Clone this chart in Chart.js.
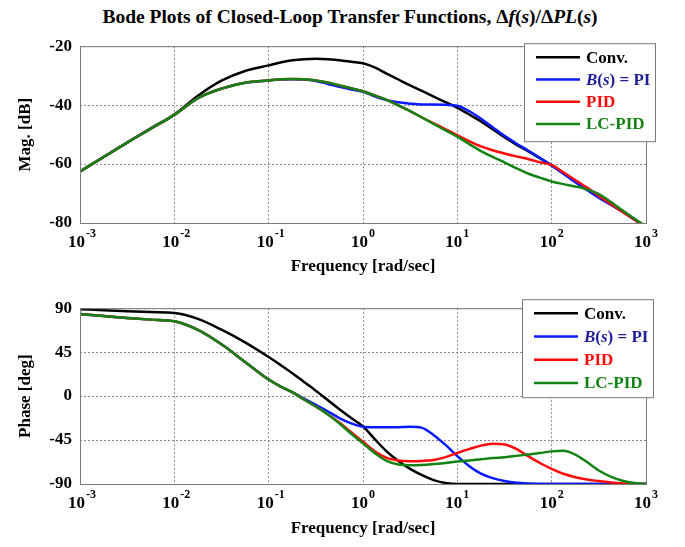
<!DOCTYPE html>
<html>
<head>
<meta charset="utf-8">
<script src="https://cdn.jsdelivr.net/npm/chart.js@4.4.1/dist/chart.umd.min.js"></script>
<style>
  body { margin: 0; background: #fff; width: 685px; height: 547px; position: relative; overflow: hidden; font-family: "Liberation Serif", serif; }
  #title { position: absolute; top: 6px; left: 0; width: 700px; text-align: center; font-weight: bold; font-size: 19.5px; }
  .wrap { position: absolute; left: 0; width: 685px; }
  #wrapMag { top: 28px; height: 250px; }
  #wrapPhase { top: 290px; height: 257px; }
</style>
</head>
<body>
<div id="title">Bode Plots of Closed-Loop Transfer Functions, &Delta;<i>f</i>(<i>s</i>)/&Delta;<i>PL</i>(<i>s</i>)</div>
<div class="wrap" id="wrapMag"><canvas id="magChart"></canvas></div>
<div class="wrap" id="wrapPhase"><canvas id="phaseChart"></canvas></div>
<script>
// frequency points [rad/sec]
const freqs = [0.001, 0.00178, 0.00316, 0.00562, 0.01, 0.0178, 0.0316, 0.0562, 0.1,
  0.133, 0.178, 0.237, 0.316, 0.422, 0.562, 0.75, 1, 1.33, 1.78, 2.37, 3.16, 4.22, 5.62, 7.5,
  10, 13.3, 17.8, 23.7, 31.6, 42.2, 56.2, 75, 100, 133, 178, 237, 316, 422, 562, 750, 1000];

const freqTicks = [0.001, 0.01, 0.1, 1, 10, 100, 1000];
const magTicks = [-80, -60, -40, -20];
const phaseTicks = [-90, -45, 0, 45, 90];

// magnitude [dB]
const magConv = [-62.5, -57.6, -52.7, -47.9, -43.2, -36.8, -31.7, -28.4, -26.5,
  -25.5, -24.8, -24.4, -24.3, -24.4, -24.8, -25.3, -25.8, -27.2, -29.3, -31.3, -33.3, -35.2, -37.1, -39,
  -40.9, -43.1, -45.5, -48.2, -50.9, -53.4, -55.6, -58, -60.5, -63.1, -65.8, -68.4, -71, -73.6, -76.1, -78.7, -81.3];
const magPI = [-62.5, -57.6, -52.7, -48, -43.3, -37.6, -34.4, -32.4, -31.6,
  -31.3, -31.2, -31.3, -31.8, -32.8, -33.8, -34.7, -35.5, -37, -38.3, -39, -39.5, -39.8, -39.8, -39.9,
  -40.2, -42, -44.6, -47.5, -50.4, -53, -55.4, -57.9, -60.5, -63.3, -66.2, -68.8, -71.4, -73.8, -76.2, -78.8, -81.4];
const magPID = [-62.5, -57.6, -52.7, -48, -43.3, -37.6, -34.4, -32.4, -31.6,
  -31.2, -31.1, -31.2, -31.6, -32.3, -33.3, -34.3, -35.3, -36.7, -38.2, -40.1, -42, -44.2, -46.2, -48.2,
  -50.2, -52.2, -54, -55.3, -56.4, -57.4, -58.3, -59.4, -60.3, -62.8, -65.4, -68, -70.8, -73.5, -76.2, -78.8, -81.4];
const magLCPID = [-62.5, -57.6, -52.7, -48, -43.3, -37.6, -34.4, -32.4, -31.6,
  -31.2, -31.1, -31.2, -31.6, -32.3, -33.3, -34.3, -35.3, -36.7, -38.2, -40.1, -42, -44.2, -46.4, -48.6,
  -50.7, -53.2, -55.6, -57.6, -59.4, -61.4, -63.2, -64.6, -65.9, -66.8, -67.6, -68.6, -70.2, -72.8, -75.7, -78.5, -81.2];

// phase [deg]
const phaseConv = [89, 88, 87, 86, 85, 79, 68, 55, 40,
  32, 23.5, 14.5, 5.5, -4, -13.5, -22.5, -31, -44, -56.6, -66.5, -74.5, -81, -86, -89,
  -90, -90, -90, -90, -90, -90, -90, -90, -90, -90, -90, -90, -90, -90, -90, -90, -90];
const phasePI = [84, 82, 80, 78.3, 76.6, 67.8, 53, 35, 17,
  10, 4, -2.5, -9, -15.5, -22.5, -28, -31.5, -32, -32, -31.8, -31.5, -32.5, -40, -50,
  -61.5, -71.5, -79.4, -84, -87, -88.8, -89.6, -90, -90, -90, -90, -90, -90, -90, -90, -90, -90];
const phasePID = [84, 82, 80, 78.3, 76.6, 67.8, 53, 35, 17,
  10, 4, -3.5, -10.7, -18.5, -27, -37, -46.8, -56.5, -63.2, -66, -66.6, -66.4, -65.5, -62.5,
  -58.2, -54.3, -50.7, -48.8, -49.5, -54, -61.5, -68.5, -74.5, -79.5, -83, -85.5, -87, -88.5, -89.5, -90, -90];
const phaseLCPID = [84, 82, 80, 78.3, 76.6, 67.8, 53, 35, 17,
  10, 4, -3.5, -10.7, -18.5, -28, -38.5, -48.4, -58.3, -66.4, -70, -70.8, -70.5, -69.6, -68.5,
  -67, -66, -64.7, -63.5, -62.5, -61.2, -59.8, -58.3, -56.6, -56, -59.8, -67.5, -76.2, -82.5, -86.6, -89, -90];

const lineColors = ['#000000', '#0a1aff', '#ff0a0a', '#138313'];
const legendColors = ['#000000', '#1e1e96', '#ff0a0a', '#138313'];
const legendParts = [
  [{ t: 'Conv.' }],
  [{ t: 'B', i: true }, { t: '(' }, { t: 's', i: true }, { t: ') = PI' }],
  [{ t: 'PID' }],
  [{ t: 'LC-PID' }]
];

const serif = '"Liberation Serif", "Times New Roman", serif';

function makeDatasets(series) {
  return series.map((vals, k) => ({
    data: freqs.map((f, i) => ({ x: f, y: vals[i] })),
    borderColor: lineColors[k],
    borderWidth: 2.5,
    pointRadius: 0,
    cubicInterpolationMode: 'monotone',
    order: 3 - k
  }));
}

// frame, x tick labels with exponents, legend box
const bodePlugin = {
  id: 'bode',
  afterDatasetsDraw(chart, args, opts) {
    const ctx = chart.ctx;
    const area = chart.chartArea;
    const xs = chart.scales.x;
    ctx.save();
    // frame
    ctx.strokeStyle = '#7a7a7a';
    ctx.lineWidth = 1;
    ctx.strokeRect(area.left + 0.5, area.top + 0.5, area.right - area.left, area.bottom - area.top);
    // legend
    const bx = area.right + opts.dx, by = area.top + opts.dy;
    ctx.fillStyle = '#fff';
    ctx.fillRect(bx, by, 131, 98);
    ctx.strokeStyle = '#7a7a7a';
    ctx.lineWidth = 1;
    ctx.strokeRect(bx + 0.5, by + 0.5, 131, 98);
    legendParts.forEach((parts, k) => {
      const y = by + 14 + k * opts.row;
      ctx.strokeStyle = lineColors[k];
      ctx.lineWidth = 2.5;
      ctx.beginPath();
      ctx.moveTo(bx + 12, y);
      ctx.lineTo(bx + 56, y);
      ctx.stroke();
      let x = bx + 62;
      ctx.fillStyle = legendColors[k];
      ctx.textBaseline = 'middle';
      ctx.textAlign = 'left';
      parts.forEach(p => {
        ctx.font = (p.i ? 'italic ' : '') + 'bold 17px ' + serif;
        ctx.fillText(p.t, x, y + 1);
        x += ctx.measureText(p.t).width;
      });
    });
    // x tick labels 10^n
    ctx.fillStyle = '#000';
    ctx.textBaseline = 'alphabetic';
    xs.ticks.forEach(t => {
      const px = xs.getPixelForValue(t.value);
      const ex = Math.round(Math.log10(t.value));
      ctx.font = 'bold 17px ' + serif;
      ctx.textAlign = 'right';
      ctx.fillText('10', px + 5, area.bottom + 24);
      ctx.font = 'bold 12px ' + serif;
      ctx.textAlign = 'left';
      ctx.fillText(String(ex), px + 6, area.bottom + 14);
    });
    ctx.restore();
  }
};

function makeChart(id, series, yTicks, yTitle, xHeight, xTitlePad, legendOpts) {
  return new Chart(document.getElementById(id), {
    type: 'line',
    data: { datasets: makeDatasets(series) },
    plugins: [bodePlugin],
    options: {
      responsive: true,
      maintainAspectRatio: false,
      animation: false,
      layout: { padding: { top: 11, right: 39, bottom: 0, left: 0 } },
      plugins: { legend: { display: false }, tooltip: { enabled: false }, bode: legendOpts },
      scales: {
        x: {
          type: 'logarithmic',
          min: 0.001,
          max: 1000,
          afterBuildTicks: s => { s.ticks = freqTicks.map(v => ({ value: v })); },
          afterFit: s => { s.height = xHeight; },
          ticks: { display: false },
          grid: { color: '#8a8a8a', lineWidth: 1, drawTicks: false },
          border: { display: false, dash: [2, 2] },
          title: { display: true, text: 'Frequency [rad/sec]', color: '#000',
            font: { family: serif, size: 17, weight: 'bold' }, padding: { top: 0, bottom: xTitlePad } }
        },
        y: {
          min: yTicks[0],
          max: yTicks[yTicks.length - 1],
          afterBuildTicks: s => { s.ticks = yTicks.map(v => ({ value: v })); },
          afterFit: s => { s.width = 80; },
          ticks: { color: '#000', padding: 8, font: { family: serif, size: 17, weight: 'bold' } },
          grid: { color: '#8a8a8a', lineWidth: 1, drawTicks: false },
          border: { display: false, dash: [2, 2] },
          title: { display: true, text: yTitle, color: '#000',
            font: { family: serif, size: 17, weight: 'bold' }, padding: { top: 15, bottom: 0 } }
        }
      }
    }
  });
}

makeChart('magChart', [magConv, magPI, magPID, magLCPID], magTicks, 'Mag. [dB]', 55, 1,
  { dx: -122, dy: -3, row: 22.3 });
makeChart('phaseChart', [phaseConv, phasePI, phasePID, phaseLCPID], phaseTicks, 'Phase [deg]', 63, 8,
  { dx: -124, dy: -9, row: 23.3 });
</script>
</body>
</html>
